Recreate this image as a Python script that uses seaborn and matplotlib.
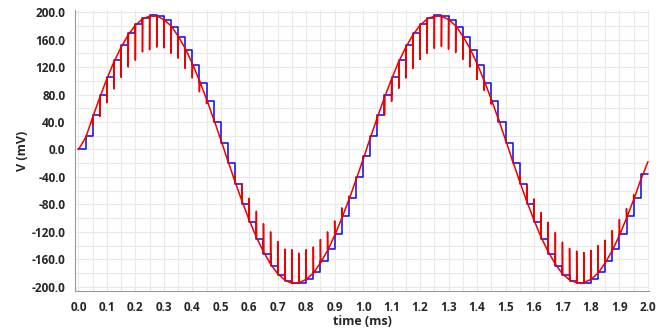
import numpy as np
import pandas as pd
import matplotlib
matplotlib.use("Agg")
import matplotlib.pyplot as plt
from matplotlib.ticker import MultipleLocator, FormatStrFormatter
import seaborn as sns

# sample instants (40 kHz clock, 2 ms window)
t_ms = np.round(np.arange(81) * 0.025, 3)

# red: input trace at each sample instant (mV)
input_mV = [0, 17, 47, 76, 103, 128, 149, 167, 181, 190, 194, 194, 189, 180, 165, 147, 125, 100, 73, 44, 14,
            -17, -47, -76, -103, -128, -149, -167, -181, -190, -195, -194, -189, -180, -165, -147, -125, -100, -73, -44, -14,
            17, 47, 76, 103, 128, 149, 167, 181, 190, 194, 194, 189, 180, 165, 147, 125, 100, 73, 44, 14,
            -17, -47, -76, -103, -128, -149, -167, -181, -190, -194, -194, -189, -180, -165, -147, -125, -100, -73, -44, -18]
# red: glitch extreme right at the switching instant (mV)
glitch_mV = [0, 15, 36, 48, 68, 88, 105, 120, 130, 142, 145, 149, 148, 140, 133, 118, 104, 84, 67, 42, 13,
             -15, -38, -50, -71, -90, -108, -120, -134, -145, -146, -151, -146, -142, -131, -120, -104, -85, -68, -42, -13,
             15, 37, 50, 70, 89, 104, 118, 131, 140, 147, 150, 146, 141, 131, 120, 102, 86, 66, 42, 13,
             -15, -37, -52, -72, -92, -106, -121, -135, -144, -148, -150, -147, -140, -132, -118, -102, -86, -66, -42, -18]
# blue: sample-and-hold output (mV)
held_mV = [0, 20, 50, 79, 106, 130, 152, 169, 182, 191, 195, 194, 188, 178, 163, 145, 123, 97, 70, 40, 10,
           -20, -50, -79, -106, -130, -152, -169, -182, -191, -195, -194, -188, -178, -163, -145, -123, -97, -70, -40, -10,
           20, 50, 79, 106, 130, 152, 169, 182, 191, 195, 194, 188, 178, 163, 145, 123, 97, 70, 40, 10,
           -20, -50, -79, -106, -130, -152, -169, -182, -191, -195, -194, -188, -178, -163, -145, -123, -97, -70, -36, -36]

sns.set_style("white")
plt.rcParams['font.family'] = ['Open Sans', 'DejaVu Sans']

# red trace dips to the glitch value and comes back at each sample
rows = []
for t, v, g in zip(t_ms, input_mV, glitch_mV):
    rows += [(t, v), (t, g), (t + 0.0005, v)]
red = pd.DataFrame(rows, columns=['time', 'V'])
blue = pd.DataFrame({'time': t_ms, 'V': held_mV})

fig = plt.figure(figsize=(6.58, 3.30), dpi=100)
ax = fig.add_axes([75 / 658, 1 - 291 / 330, 574 / 658, 281 / 330])

# light grid every 0.05 ms / 20 mV
for gx in np.arange(0, 2.001, 0.05):
    ax.axvline(gx, color='#e9e9e9', lw=0.8, zorder=0)
for gy in np.arange(-200, 201, 20):
    ax.axhline(gy, color='#e9e9e9', lw=0.8, zorder=0)

sns.lineplot(data=blue, x='time', y='V', color='#1010f0', lw=1.15,
             drawstyle='steps-post', estimator=None, ax=ax, zorder=2)
sns.lineplot(data=red, x='time', y='V', color='#ee0000', lw=1.1, sort=False,
             estimator=None, ax=ax, zorder=3)

ax.set_xlim(-0.012, 2.004)
ax.set_ylim(-206, 203)
ax.xaxis.set_major_locator(MultipleLocator(0.1))
ax.xaxis.set_minor_locator(MultipleLocator(0.01))
ax.yaxis.set_major_locator(MultipleLocator(40))
ax.yaxis.set_minor_locator(MultipleLocator(5))
ax.xaxis.set_major_formatter(FormatStrFormatter('%.1f'))
ax.yaxis.set_major_formatter(FormatStrFormatter('%.1f'))

for s in ['top', 'right']:
    ax.spines[s].set_visible(False)
for s in ['left', 'bottom']:
    ax.spines[s].set_color('#999999')
    ax.spines[s].set_linewidth(0.8)
ax.tick_params(which='major', direction='out', length=4, width=0.8, color='#999999',
               labelsize=8.5, pad=3)
ax.tick_params(which='minor', direction='out', length=2, width=0.6, color='#999999')
for lab in ax.get_xticklabels() + ax.get_yticklabels():
    lab.set_fontweight('bold')

ax.set_xlabel('time (ms)', fontsize=9, fontweight='bold', labelpad=1)
ax.set_ylabel('V (mV)', fontsize=9, fontweight='bold', labelpad=2)

fig.savefig('out.png', dpi=100)
